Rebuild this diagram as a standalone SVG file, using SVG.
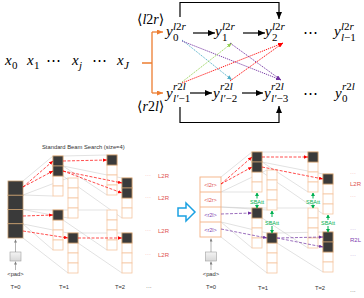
<svg xmlns="http://www.w3.org/2000/svg" width="364" height="298" viewBox="0 0 364 298">
<defs>
<style>
.m{font-family:"Liberation Serif","DejaVu Serif",serif;font-style:italic;font-size:15px;fill:#000}
.s{font-size:11px}
.tg{font-size:14px}
.u{font-style:normal}
.cd{fill:#3a3a3a;stroke:#c49a6c;stroke-width:0.8}
.ce{fill:#fff;stroke:#f5c6a0;stroke-width:0.8}
.g{stroke:#c4c4c4;stroke-width:0.5;fill:none}
.rd{stroke:#ff0000;stroke-width:0.7;stroke-dasharray:3 1.5;fill:none;marker-end:url(#hr)}
.pd{stroke:#7030a0;stroke-width:0.7;stroke-dasharray:3 1.5;fill:none;marker-end:url(#hp)}
.t{font-family:"Liberation Sans",Arial,sans-serif;font-size:5.8px;fill:#333}
.lr{font-family:"Liberation Sans",Arial,sans-serif;font-size:6px;fill:#e05050}
.lp{font-family:"Liberation Sans",Arial,sans-serif;font-size:6px;fill:#8040b0}
.dot{font-family:"Liberation Sans",Arial,sans-serif;font-size:6px}
.sb{font-family:"Liberation Sans",Arial,sans-serif;font-size:5.5px;fill:#00b050;text-anchor:middle}
.gn{stroke:#00b050;stroke-width:1;fill:none;marker-end:url(#hg)}
.pa{stroke:#808080;stroke-width:0.6;fill:none;marker-end:url(#hx)}
.bk{stroke:#000;stroke-width:1.2;fill:none}
.dl{stroke-width:0.9;fill:none;stroke-dasharray:1.3 0.9}
</style>
<marker id="hk" markerWidth="7" markerHeight="6" refX="7" refY="3" orient="auto" markerUnits="userSpaceOnUse"><path d="M0,0L7,3L0,6z" fill="#000"/></marker>
<marker id="ho" markerWidth="6" markerHeight="5" refX="6" refY="2.5" orient="auto" markerUnits="userSpaceOnUse"><path d="M0,0L6,2.5L0,5z" fill="#ed7d31"/></marker>
<marker id="mc" markerWidth="5" markerHeight="4" refX="5" refY="2" orient="auto" markerUnits="userSpaceOnUse"><path d="M0,0L5,2L0,4z" fill="#4bacc6"/></marker>
<marker id="mp" markerWidth="5" markerHeight="4" refX="5" refY="2" orient="auto" markerUnits="userSpaceOnUse"><path d="M0,0L5,2L0,4z" fill="#7030a0"/></marker>
<marker id="mg" markerWidth="5" markerHeight="4" refX="5" refY="2" orient="auto" markerUnits="userSpaceOnUse"><path d="M0,0L5,2L0,4z" fill="#92d050"/></marker>
<marker id="mr" markerWidth="5" markerHeight="4" refX="5" refY="2" orient="auto" markerUnits="userSpaceOnUse"><path d="M0,0L5,2L0,4z" fill="#ff0000"/></marker>
<marker id="hr" markerWidth="4" markerHeight="3.4" refX="4" refY="1.7" orient="auto" markerUnits="userSpaceOnUse"><path d="M0,0L4,1.7L0,3.4z" fill="#ff0000"/></marker>
<marker id="hp" markerWidth="4" markerHeight="3.4" refX="4" refY="1.7" orient="auto" markerUnits="userSpaceOnUse"><path d="M0,0L4,1.7L0,3.4z" fill="#7030a0"/></marker>
<marker id="hg" markerWidth="3.5" markerHeight="4" refX="3" refY="2" orient="auto" markerUnits="userSpaceOnUse"><path d="M0,0L3.5,2L0,4z" fill="#00b050"/></marker>
<marker id="hx" markerWidth="3" markerHeight="3" refX="3" refY="1.5" orient="auto" markerUnits="userSpaceOnUse"><path d="M0,0L3,1.5L0,3z" fill="#808080"/></marker>
<g id="c4">
<rect class="ce" x="0" y="0" width="10" height="10"/>
<rect class="ce" x="0" y="10" width="10" height="10"/>
<rect class="ce" x="0" y="20" width="10" height="10"/>
<rect class="ce" x="0" y="30" width="10" height="10"/>
</g>
<linearGradient id="pg" x1="0" y1="0" x2="0" y2="1"><stop offset="0" stop-color="#f4f4f4"/><stop offset="1" stop-color="#d8d8d8"/></linearGradient>
</defs>
<rect width="364" height="298" fill="#fff"/>

<!-- ===== Top formula ===== -->
<g id="source">
<text class="m" x="5" y="65">x</text><text class="m s u" x="12" y="69">0</text>
<text class="m" x="27" y="65">x</text><text class="m s u" x="34" y="69">1</text>
<text class="m u" x="46" y="65">⋯</text>
<text class="m" x="72" y="65">x</text><text class="m s" x="79" y="69">j</text>
<text class="m u" x="92" y="65">⋯</text>
<text class="m" x="117" y="65">x</text><text class="m s" x="124" y="69">J</text>
</g>
<g id="l2r-tag"><text class="m tg" x="137" y="24"><tspan class="u">⟨</tspan>l<tspan class="u">2</tspan>r<tspan class="u">⟩</tspan></text></g>
<g id="r2l-tag"><text class="m tg" x="137" y="111"><tspan class="u">⟨</tspan>r<tspan class="u">2</tspan>l<tspan class="u">⟩</tspan></text></g>

<g id="l2r-row">
<text class="m" x="166" y="36">y</text><text class="m s" x="173" y="29.5">l<tspan class="u">2</tspan>r</text><text class="m s u" x="173" y="41">0</text>
<text class="m" x="215" y="36">y</text><text class="m s" x="222" y="29.5">l<tspan class="u">2</tspan>r</text><text class="m s u" x="222" y="41">1</text>
<text class="m" x="265" y="36">y</text><text class="m s" x="272" y="29.5">l<tspan class="u">2</tspan>r</text><text class="m s u" x="272" y="41">2</text>
<text class="m u" x="303" y="37">⋯</text>
<text class="m" x="334" y="36">y</text><text class="m s" x="341" y="29.5">l<tspan class="u">2</tspan>r</text><text class="m s" x="341" y="41">l<tspan class="u">−1</tspan></text>
</g>
<g id="r2l-row">
<text class="m" x="166" y="98">y</text><text class="m s" x="173" y="90">r<tspan class="u">2</tspan>l</text><text class="m s" x="173" y="102">l′<tspan class="u">−1</tspan></text>
<text class="m" x="213" y="98">y</text><text class="m s" x="220" y="90">r<tspan class="u">2</tspan>l</text><text class="m s" x="220" y="102">l′<tspan class="u">−2</tspan></text>
<text class="m" x="264" y="98">y</text><text class="m s" x="271" y="90">r<tspan class="u">2</tspan>l</text><text class="m s" x="271" y="102">l′<tspan class="u">−3</tspan></text>
<text class="m u" x="303" y="98">⋯</text>
<text class="m" x="335" y="98">y</text><text class="m s" x="342" y="90">r<tspan class="u">2</tspan>l</text><text class="m s u" x="342" y="102">0</text>
</g>

<g id="top-connectors">
<path d="M142,63H152M152,32V93" stroke="#ed7d31" stroke-width="1.3" fill="none"/>
<path d="M152,32H163" stroke="#ed7d31" stroke-width="1.3" fill="none" marker-end="url(#ho)"/>
<path d="M152,93H163" stroke="#ed7d31" stroke-width="1.3" fill="none" marker-end="url(#ho)"/>
<path class="bk" d="M193,33H215" marker-end="url(#hk)"/>
<path class="bk" d="M243,33H265" marker-end="url(#hk)"/>
<path class="bk" d="M190,93H212" marker-end="url(#hk)"/>
<path class="bk" d="M242,93H263" marker-end="url(#hk)"/>
<path class="bk" d="M180,17V2.5H279V19" stroke-width="1" marker-end="url(#hk)"/>
<path class="bk" d="M180,107V122.5H279V106" stroke-width="1" marker-end="url(#hk)"/>
<path class="dl" stroke="#4bacc6" d="M182,40L232,80" marker-end="url(#mc)"/>
<path class="dl" stroke="#7030a0" d="M182,41L281,80" marker-end="url(#mp)"/>
<path class="dl" stroke="#92d050" d="M182,82L232,43" marker-end="url(#mg)"/>
<path class="dl" stroke="#ff0000" d="M182,83L283,43" marker-end="url(#mr)"/>
<path class="dl" stroke="#7030a0" d="M230,43L281,80" marker-end="url(#mp)"/>
<path class="dl" stroke="#ff0000" d="M230,81L283,43" marker-end="url(#mr)"/>
</g>

<!-- ===== Bottom-left: standard beam search ===== -->
<text class="t" x="42" y="149">Standard  Beam Search (size=4)</text>

<g id="left-gray">
<path class="g" d="M23,181L53,156M23,195L53,196M23,195L68,178M23,209.5L68,218M23,209.5L53,210M23,224L53,250M23,224L68,233M23,238L68,273"/>
<path class="g" d="M63,156L107,155M63,166L107,195M63,166L122,178M63,176L122,218M63,210L107,210M63,220L107,250M78,233L122,233M78,243L122,273"/>
</g>
<g id="L-T0">
<rect class="cd" x="8" y="181" width="15" height="14.25"/>
<rect class="cd" x="8" y="195.25" width="15" height="14.25"/>
<rect class="cd" x="8" y="209.5" width="15" height="14.25"/>
<rect class="cd" x="8" y="223.75" width="15" height="14.25"/>
</g>
<g id="L-pad">
<rect x="10" y="252" width="11" height="9" fill="url(#pg)" stroke="#a0a0a0" stroke-width="0.6"/>
<path class="pa" d="M15.5,252V239.5"/>
<path class="pa" d="M15.5,270V261.5"/>
<text class="t" x="15.5" y="276" text-anchor="middle">&lt;pad&gt;</text>
</g>
<g id="L-A1"><use href="#c4" x="53" y="156"/><rect class="cd" x="53" y="156" width="10" height="10"/><rect class="cd" x="53" y="166" width="10" height="10"/></g>
<g id="L-A2"><use href="#c4" x="68" y="178"/></g>
<g id="L-A3"><use href="#c4" x="53" y="210"/><rect class="cd" x="53" y="210" width="10" height="10"/></g>
<g id="L-A4"><use href="#c4" x="68" y="233"/><rect class="cd" x="68" y="233" width="10" height="10"/></g>
<g id="L-B1"><use href="#c4" x="107" y="155"/><rect class="cd" x="107" y="155" width="10" height="10"/></g>
<g id="L-B2"><use href="#c4" x="122" y="178"/><rect class="cd" x="122" y="178" width="10" height="10"/><rect class="cd" x="122" y="188" width="10" height="10"/></g>
<g id="L-B3"><use href="#c4" x="107" y="210"/></g>
<g id="L-B4"><use href="#c4" x="122" y="233"/><rect class="cd" x="122" y="233" width="10" height="10"/></g>
<g id="left-arrows">
<path class="rd" d="M23,187L53,161"/>
<path class="rd" d="M23,187L53,171"/>
<path class="rd" d="M23,216L53,215"/>
<path class="rd" d="M23,231L68,238"/>
<path class="rd" d="M63,161L107,160"/>
<path class="rd" d="M63,171L122,183"/>
<path class="rd" d="M63,171L122,193"/>
<path class="rd" d="M78,238L122,238"/>
</g>
<g id="left-labels">
<text class="dot" x="145" y="177" fill="#f19a9a">···</text><text class="lr" x="158" y="177.5">L2R</text>
<text class="dot" x="145" y="199" fill="#f19a9a">···</text><text class="lr" x="158" y="199.5">L2R</text>
<text class="dot" x="145" y="232" fill="#f19a9a">···</text><text class="lr" x="158" y="232.5">L2R</text>
<text class="dot" x="145" y="256" fill="#f19a9a">···</text><text class="lr" x="158" y="256.5">L2R</text>
<text class="t" x="15.5" y="289" text-anchor="middle">T=0</text>
<text class="t" x="64" y="289" text-anchor="middle">T=1</text>
<text class="t" x="120" y="289" text-anchor="middle">T=2</text>
<text class="t" x="146" y="289">···</text>
</g>

<g id="switch-arrow"><path d="M178,208H186V203L195,212L186,221V216H178Z" fill="#fff" stroke="#1ba1e2" stroke-width="1.5" stroke-linejoin="miter"/></g>

<!-- ===== Bottom-right: SBAtt beam search ===== -->
<g id="right-gray">
<path class="g" d="M221,177L252,152M221,192L252,192M221,192L267,170M221,207L267,210M221,207L252,208M221,222L252,248M221,222L267,233M221,237L267,273"/>
<path class="g" d="M262,152L308,152M262,162L308,192M262,162L323,174M262,172L323,214M262,208L308,208M262,218L308,248M277,233L323,232M277,243L323,272"/>
</g>
<g id="R-T0">
<rect x="200" y="177" width="21" height="60" fill="#fff" stroke="#f4b183" stroke-width="0.9"/>
<path d="M200,192H221M200,207H221M200,222H221" stroke="#f4b183" stroke-width="0.9"/>
<text class="lr" x="210.5" y="186.5" text-anchor="middle" fill="#ff0000" style="font-size:5.5px">&lt;l2r&gt;</text>
<text class="lr" x="210.5" y="201.5" text-anchor="middle" fill="#ff0000" style="font-size:5.5px">&lt;l2r&gt;</text>
<text class="lp" x="210.5" y="216.5" text-anchor="middle" style="font-size:5.5px">&lt;r2l&gt;</text>
<text class="lp" x="210.5" y="231.5" text-anchor="middle" style="font-size:5.5px">&lt;r2l&gt;</text>
</g>
<g id="R-pad">
<rect x="205.5" y="252" width="11" height="9" fill="url(#pg)" stroke="#a0a0a0" stroke-width="0.6"/>
<path class="pa" d="M211,252V238.5"/>
<path class="pa" d="M211,270V261.5"/>
<text class="t" x="211" y="276" text-anchor="middle">&lt;pad&gt;</text>
</g>
<g id="R-C1"><use href="#c4" x="252" y="152"/><rect class="cd" x="252" y="152" width="10" height="10"/><rect class="cd" x="252" y="162" width="10" height="10"/></g>
<g id="R-C2"><use href="#c4" x="267" y="170"/></g>
<g id="R-C3"><use href="#c4" x="252" y="208"/><rect class="cd" x="252" y="208" width="10" height="10"/></g>
<g id="R-C4"><use href="#c4" x="267" y="233"/><rect class="cd" x="267" y="233" width="10" height="10"/></g>
<g id="R-D1"><use href="#c4" x="308" y="152"/><rect class="cd" x="308" y="152" width="10" height="10"/></g>
<g id="R-D2"><use href="#c4" x="323" y="174"/><rect class="cd" x="323" y="174" width="10" height="10"/></g>
<g id="R-D3"><use href="#c4" x="308" y="208"/></g>
<g id="R-D4"><use href="#c4" x="323" y="232"/><rect class="cd" x="323" y="232" width="10" height="10"/><rect class="cd" x="323" y="242" width="10" height="10"/></g>
<g id="right-arrows">
<path class="rd" d="M221,184L252,157"/>
<path class="rd" d="M221,184L252,167"/>
<path class="pd" d="M221,214L252,213"/>
<path class="pd" d="M221,229L267,238"/>
<path class="rd" d="M262,157L308,157"/>
<path class="rd" d="M262,167L323,179"/>
<path class="pd" d="M277,238L323,237"/>
<path class="pd" d="M277,238L323,247"/>
</g>
<g id="sbatt">
<path class="gn" d="M257,198.5V193"/><text class="sb" x="257" y="204">SBAtt</text><path class="gn" d="M257,204.5V208"/>
<path class="gn" d="M272,217V211"/><text class="sb" x="272" y="225">SBAtt</text><path class="gn" d="M272,226V233"/>
<path class="gn" d="M313,198.5V193"/><text class="sb" x="313" y="204">SBAtt</text><path class="gn" d="M313,204.5V208"/>
<path class="gn" d="M328,220V215"/><text class="sb" x="328" y="225">SBAtt</text><path class="gn" d="M328,226V232"/>
</g>
<g id="right-labels">
<text class="dot" x="350" y="175" fill="#f19a9a">···</text>
<text class="lr" x="350" y="186">L2R</text>
<text class="dot" x="350" y="198" fill="#f19a9a">···</text>
<text class="dot" x="350" y="231" fill="#b088d0">···</text>
<text class="lp" x="350" y="242">R2L</text>
<text class="dot" x="350" y="257" fill="#b088d0">···</text>
<text class="t" x="211" y="289" text-anchor="middle">T=0</text>
<text class="t" x="263" y="290" text-anchor="middle">T=1</text>
<text class="t" x="320" y="290" text-anchor="middle">T=2</text>
<text class="t" x="350" y="293">···</text>
</g>
</svg>
